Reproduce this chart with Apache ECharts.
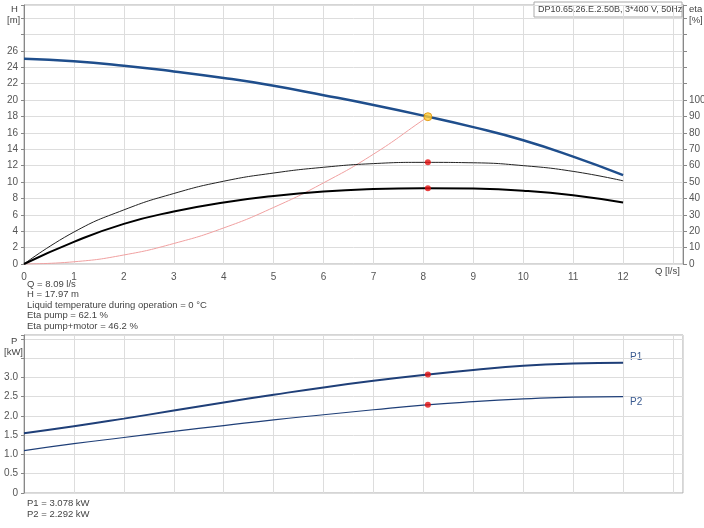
<!DOCTYPE html>
<html>
<head>
<meta charset="utf-8">
<script src="https://cdn.jsdelivr.net/npm/echarts@6/dist/echarts.min.js"></script>
<style>html,body{margin:0;padding:0;background:#fff}#main{width:704px;height:528px}</style>
</head>
<body>
<div id="main"></div>
<script>
// flow Q [l/s]
let qValues = [0, 1, 2, 3, 4, 5, 6, 7, 8, 9, 10, 11, 12];
let headValues = [25.05, 24.75, 24.2, 23.5, 22.7, 21.75, 20.6, 19.4, 18.1, 16.7, 15.1, 13.1, 10.85];
let etaPump = [0, 19.5, 33, 43, 50.5, 55.5, 59, 61.25, 62, 61.75, 60, 56.5, 50.75];
let etaTotal = [0, 13.5, 24.5, 32, 37.5, 41.5, 44.25, 45.75, 46.25, 46, 44.75, 42, 37.5];
let systemQ = [0, 1, 2, 3, 4, 5, 6, 7, 8, 8.09];
let systemH = [0, 0.27, 1.1, 2.5, 4.4, 6.9, 9.9, 13.4, 17.6, 17.97];
let p1Values = [1.55, 1.73, 1.93, 2.14, 2.35, 2.55, 2.74, 2.91, 3.06, 3.19, 3.30, 3.36, 3.38];
let p2Values = [1.1, 1.28, 1.44, 1.60, 1.75, 1.90, 2.03, 2.16, 2.28, 2.37, 2.44, 2.49, 2.50];
let duty = { q: 8.09, h: 17.97, etaPump: 62.1, etaTotal: 46.2, p1: 3.078, p2: 2.292 };

let zip = (xs, ys) => xs.map((x, i) => [x, ys[i]]);
let font = 'Liberation Sans, Arial, sans-serif';
let txt = (x, y, t, extra) => Object.assign({ type: 'text', left: x, top: y, style: { text: t, fill: '#444', font: '9.5px ' + font } }, extra || {});

let chart = echarts.init(document.getElementById('main'));
let axisLab = { color: '#555', fontSize: 10, fontFamily: font };
let split = { show: true, lineStyle: { color: '#ddd', width: 1 } };

let option = {
  animation: false,
  grid: [
    { left: 24, right: 21, top: 5, height: 259, show: true, borderColor: '#aaa', borderWidth: 1, outerBoundsMode: 'none', containLabel: false },
    { left: 24, right: 21, top: 335, height: 158, show: true, borderColor: '#aaa', borderWidth: 1, outerBoundsMode: 'none', containLabel: false }
  ],
  xAxis: [
    { gridIndex: 0, type: 'value', min: 0, max: 13.2, interval: 1,
      axisLine: { show: false }, axisTick: { show: false }, splitLine: split,
      axisLabel: Object.assign({ formatter: v => v <= 12 ? v : '' }, axisLab) },
    { gridIndex: 1, type: 'value', min: 0, max: 13.2, interval: 1,
      axisLine: { show: false }, axisTick: { show: false }, splitLine: split,
      axisLabel: { show: false } }
  ],
  yAxis: [
    { gridIndex: 0, type: 'value', min: 0, max: 31.6, interval: 2,
      axisLine: { show: true, lineStyle: { color: '#888' } }, axisTick: { show: true, length: 3 },
      splitLine: split, axisLabel: Object.assign({ margin: 6, formatter: v => v <= 26 ? v : '' }, axisLab) },
    { gridIndex: 0, type: 'value', position: 'right', min: 0, max: 158, interval: 10,
      axisLine: { show: true, lineStyle: { color: '#888' } }, axisTick: { show: true, length: 4, inside: false },
      splitLine: { show: false }, axisLabel: Object.assign({ margin: 6, formatter: v => v <= 100 ? v : '' }, axisLab) },
    { gridIndex: 1, type: 'value', min: 0, max: 4.1, interval: 0.5,
      axisLine: { show: true, lineStyle: { color: '#888' } }, axisTick: { show: true, length: 3 },
      splitLine: split, axisLabel: Object.assign({ margin: 6, formatter: v => v === 0 ? '0' : (v <= 3 ? v.toFixed(1) : '') }, axisLab) }
  ],
  series: [
    { type: 'line', xAxisIndex: 0, yAxisIndex: 0, smooth: true, symbol: 'none', data: zip(systemQ, systemH),
      lineStyle: { color: '#f0a0a0', width: 1 }, z: 2 },
    { type: 'line', xAxisIndex: 0, yAxisIndex: 0, smooth: true, symbol: 'none', data: zip(qValues, headValues),
      lineStyle: { color: '#1f4e8c', width: 2.5 } },
    { type: 'line', xAxisIndex: 0, yAxisIndex: 1, smooth: true, symbol: 'none', data: zip(qValues, etaPump),
      lineStyle: { color: '#222', width: 1 } },
    { type: 'line', xAxisIndex: 0, yAxisIndex: 1, smooth: true, symbol: 'none', data: zip(qValues, etaTotal),
      lineStyle: { color: '#000', width: 2 } },
    { type: 'scatter', xAxisIndex: 0, yAxisIndex: 0, data: [[duty.q, duty.h]], symbolSize: 8, z: 5,
      itemStyle: { color: '#ffcc33', borderColor: '#e09000', borderWidth: 1 } },
    { type: 'scatter', xAxisIndex: 0, yAxisIndex: 1, data: [[duty.q, duty.etaPump], [duty.q, duty.etaTotal]],
      symbolSize: 6, z: 5, itemStyle: { color: '#e41010' } },
    { type: 'line', xAxisIndex: 1, yAxisIndex: 2, smooth: true, symbol: 'none', data: zip(qValues, p1Values),
      lineStyle: { color: '#1f3f78', width: 2 } },
    { type: 'line', xAxisIndex: 1, yAxisIndex: 2, smooth: true, symbol: 'none', data: zip(qValues, p2Values),
      lineStyle: { color: '#1f3f78', width: 1.2 } },
    { type: 'scatter', xAxisIndex: 1, yAxisIndex: 2, data: [[duty.q, duty.p1], [duty.q, duty.p2]],
      symbolSize: 6, z: 5, itemStyle: { color: '#e41010' } }
  ],
  graphic: [
    txt(11, 4, 'H'), txt(7, 15, '[m]'),
    txt(689, 4, 'eta'), txt(689, 15, '[%]'),
    txt(655, 266, 'Q [l/s]'),
    { type: 'rect', shape: { x: 534, y: 2, width: 148, height: 15 }, style: { fill: '#fff', stroke: '#aaa', lineWidth: 1 } },
    txt(538, 5, 'DP10.65.26.E.2.50B, 3*400 V, 50Hz', { style: { text: 'DP10.65.26.E.2.50B, 3*400 V, 50Hz', fill: '#444', font: '9px ' + font } }),
    txt(27, 279, 'Q = ' + duty.q + ' l/s'),
    txt(27, 289.5, 'H = ' + duty.h + ' m'),
    txt(27, 300, 'Liquid temperature during operation = 0 °C'),
    txt(27, 310.5, 'Eta pump = ' + duty.etaPump + ' %'),
    txt(27, 321, 'Eta pump+motor = ' + duty.etaTotal + ' %'),
    txt(11, 336, 'P'), txt(4, 347, '[kW]'),
    txt(630, 352, 'P1', { style: { text: 'P1', fill: '#3a5a90', font: '10px ' + font } }),
    txt(630, 397, 'P2', { style: { text: 'P2', fill: '#3a5a90', font: '10px ' + font } }),
    txt(27, 498, 'P1 = ' + duty.p1 + ' kW'),
    txt(27, 509, 'P2 = ' + duty.p2 + ' kW')
  ]
};
chart.setOption(option);
</script>
</body>
</html>
